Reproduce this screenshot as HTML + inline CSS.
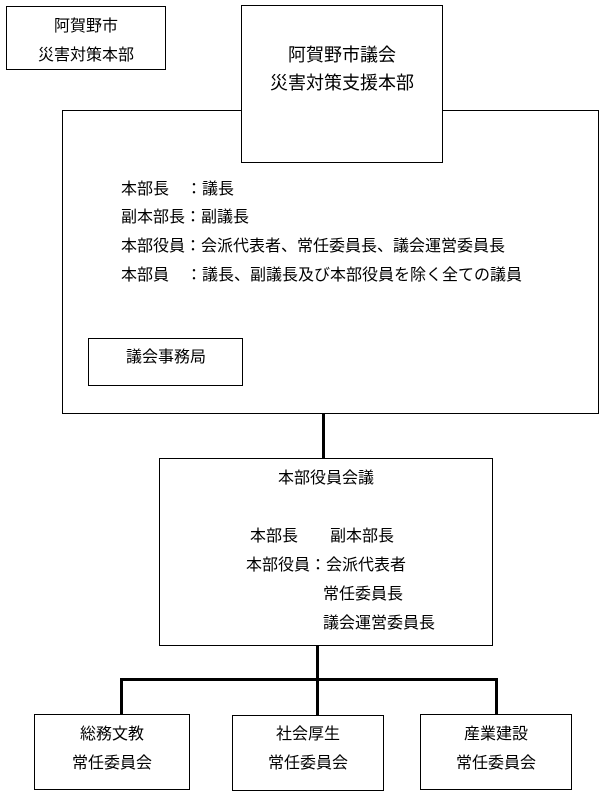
<!DOCTYPE html>
<html><head><meta charset="utf-8"><style>
body{margin:0;width:604px;height:795px;background:#fff;position:relative;font-family:"Liberation Sans","Noto Sans CJK JP",sans-serif;font-size:16px;color:#000;overflow:hidden}
.b{position:absolute;border:1px solid #000;box-sizing:border-box;background:#fff}
.t{position:absolute;white-space:nowrap;line-height:18px}
.l{position:absolute;background:#000}
</style></head><body>
<div class="b" style="left:62px;top:110px;width:537px;height:304px"></div>
<div class="b" style="left:6px;top:6px;width:160px;height:64px"></div>
<div class="t" style="left:6px;width:160px;text-align:center;top:18px">阿賀野市</div>
<div class="t" style="left:6px;width:160px;text-align:center;top:47px">災害対策本部</div>
<div class="b" style="left:241px;top:5px;width:202px;height:158px"></div>
<div class="t" style="left:241px;width:202px;text-align:center;top:45px;font-size:18px;line-height:20px">阿賀野市議会</div>
<div class="t" style="left:241px;width:202px;text-align:center;top:73px;font-size:18px;line-height:20px">災害対策支援本部</div>
<div class="t" style="left:121px;top:181px">本部長</div><div class="t" style="left:186px;top:181px">：議長</div>
<div class="t" style="left:121px;top:209px">副本部長：副議長</div>
<div class="t" style="left:121px;top:238px">本部役員：会派代表者、常任委員長、議会運営委員長</div>
<div class="t" style="left:121px;top:267px">本部員</div><div class="t" style="left:186px;top:267px">：議長、副議長及び本部役員を除く全ての議員</div>
<div class="b" style="left:88px;top:338px;width:155px;height:48px"></div>
<div class="t" style="left:126px;top:349px">議会事務局</div>
<div class="l" style="left:322px;top:413px;width:3px;height:46px"></div>
<div class="b" style="left:159px;top:458px;width:334px;height:188px"></div>
<div class="t" style="left:159px;width:334px;text-align:center;top:470px">本部役員会議</div>
<div class="t" style="left:250px;top:528px">本部長</div>
<div class="t" style="left:330px;top:528px">副本部長</div>
<div class="t" style="left:246px;top:557px">本部役員：会派代表者</div>
<div class="t" style="left:323px;top:586px">常任委員長</div>
<div class="t" style="left:323px;top:615px">議会運営委員長</div>
<div class="l" style="left:316px;top:645px;width:3px;height:70px"></div>
<div class="l" style="left:120px;top:678px;width:378px;height:3px"></div>
<div class="l" style="left:120px;top:678px;width:3px;height:37px"></div>
<div class="l" style="left:495px;top:678px;width:3px;height:37px"></div>
<div class="b" style="left:34px;top:714px;width:156px;height:76px"></div>
<div class="t" style="left:34px;width:156px;text-align:center;top:726px">総務文教</div>
<div class="t" style="left:34px;width:156px;text-align:center;top:755px">常任委員会</div>
<div class="b" style="left:232px;top:715px;width:152px;height:76px"></div>
<div class="t" style="left:232px;width:152px;text-align:center;top:726px">社会厚生</div>
<div class="t" style="left:232px;width:152px;text-align:center;top:755px">常任委員会</div>
<div class="b" style="left:420px;top:714px;width:152px;height:76px"></div>
<div class="t" style="left:420px;width:152px;text-align:center;top:726px">産業建設</div>
<div class="t" style="left:420px;width:152px;text-align:center;top:755px">常任委員会</div>
</body></html>
